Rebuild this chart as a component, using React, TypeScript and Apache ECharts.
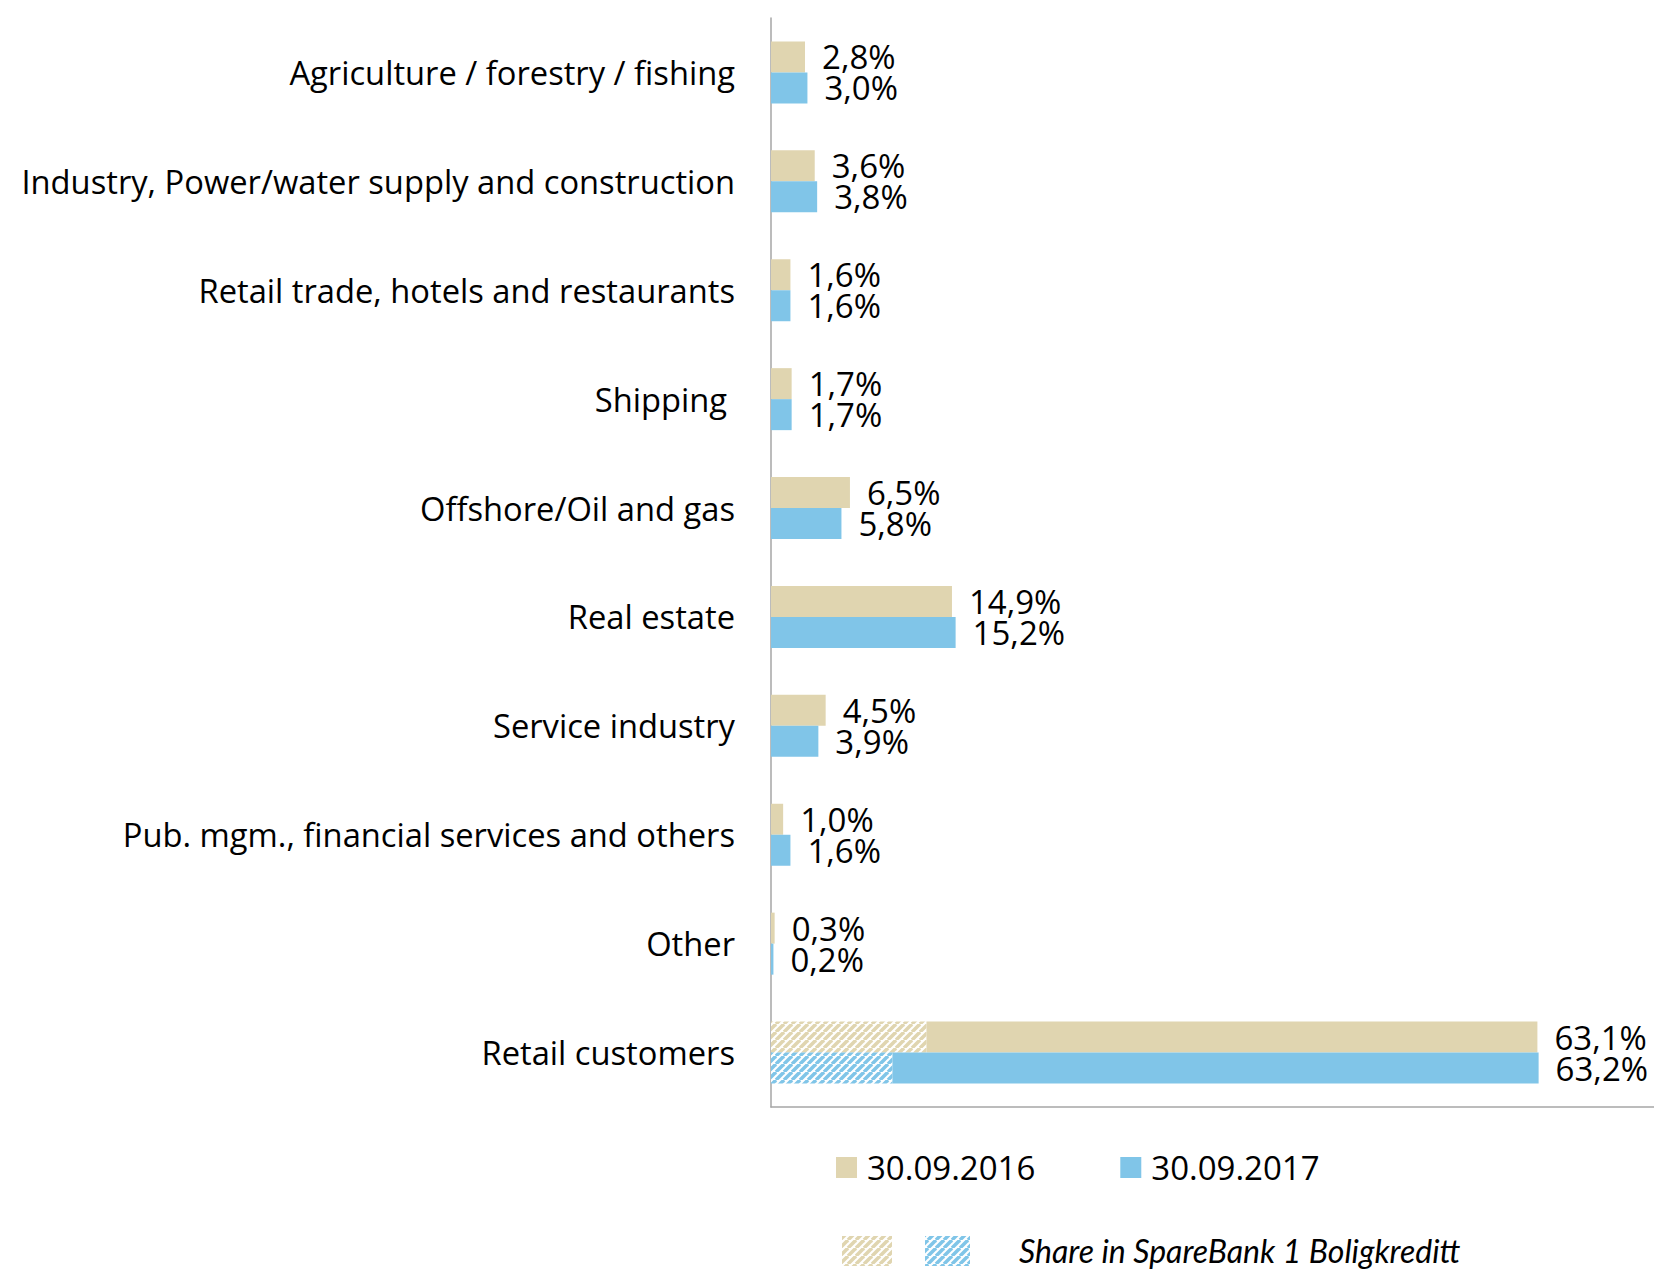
import React, { useEffect, useRef } from "react";
import * as echarts from "echarts";

const categories = [
  "Agriculture / forestry / fishing",
  "Industry, Power/water supply and construction",
  "Retail trade, hotels and restaurants",
  "Shipping",
  "Offshore/Oil and gas",
  "Real estate",
  "Service industry",
  "Pub. mgm., financial services and others",
  "Other",
  "Retail customers",
];
const values2016 = [2.8, 3.6, 1.6, 1.7, 6.5, 14.9, 4.5, 1.0, 0.3, 63.1];
const values2017 = [3.0, 3.8, 1.6, 1.7, 5.8, 15.2, 3.9, 1.6, 0.2, 63.2];
// hatched part: share in SpareBank 1 Boligkreditt (only retail customers)
const boligkreditt2016 = [null, null, null, null, null, null, null, null, null, 12.8];
const boligkreditt2017 = [null, null, null, null, null, null, null, null, null, 10.0];
const seriesNames = ["30.09.2016", "30.09.2017"];
const hatchLegendText = "Share in SpareBank 1 Boligkreditt";

const TAN = "#E0D5B0";
const BLUE = "#80C5E8";
const AXIS = "#A6A6A6";
const FONT = "'Open Sans', sans-serif";
const FS = 33;

function hatch(color: string) {
  const s = 8;
  const c = document.createElement("canvas");
  c.width = s;
  c.height = s;
  const ctx = c.getContext("2d")!;
  ctx.fillStyle = "#ffffff";
  ctx.fillRect(0, 0, s, s);
  ctx.strokeStyle = color;
  ctx.lineWidth = 3.5;
  for (let k = -1; k <= 1; k++) {
    ctx.beginPath();
    ctx.moveTo(k * s, s);
    ctx.lineTo(k * s + s, 0);
    ctx.stroke();
  }
  return { image: c.toDataURL(), repeat: "repeat", imageWidth: s, imageHeight: s };
}

const fmt = (v: number) => v.toFixed(1).replace(".", ",") + "%";

export default function App() {
  const ref = useRef<HTMLDivElement>(null);
  useEffect(() => {
    if (!ref.current) return;
    const chart = echarts.init(ref.current, null, { renderer: "svg" });
    const hatchTan = hatch(TAN);
    const hatchBlue = hatch(BLUE);
    const rest2016 = values2016.map((v, i) => +(v - (boligkreditt2016[i] ?? 0)).toFixed(2));
    const rest2017 = values2017.map((v, i) => +(v - (boligkreditt2017[i] ?? 0)).toFixed(2));
    const labelBase = {
      show: true,
      position: "right",
      distance: 17,
      color: "#000",
      fontSize: FS,
      lineHeight: 29,
      fontFamily: FONT,
    };
    chart.setOption({
      animation: false,
      backgroundColor: "#fff",
      textStyle: { fontFamily: FONT },
      grid: { left: 771, top: 18, width: 883, height: 1089 },
      xAxis: {
        type: "value",
        min: 0,
        max: 72.7,
        axisLine: { show: true, lineStyle: { color: AXIS, width: 1.5 } },
        axisTick: { show: false },
        axisLabel: { show: false },
        splitLine: { show: false },
      },
      yAxis: {
        type: "category",
        inverse: true,
        data: categories.map((c) =>
          c === "Shipping" ? { value: c, textStyle: { padding: [0, 8, 0, 0] } } : c
        ),
        axisLine: { lineStyle: { color: AXIS, width: 1.5 } },
        axisTick: { length: 12, lineStyle: { color: AXIS, width: 1.5 } },
        axisLabel: { margin: 36, color: "#000", fontSize: 32.7, fontFamily: FONT },
      },
      legend: {
        data: seriesNames,
        left: 836,
        top: 1151,
        padding: 0,
        icon: "rect",
        itemWidth: 21,
        itemHeight: 21,
        itemGap: 85,
        textStyle: { fontSize: FS, color: "#000", fontFamily: FONT, padding: [0, 0, 0, 5] },
      },
      series: [
        {
          name: "Boligkreditt " + seriesNames[0],
          type: "bar",
          stack: "s2016",
          barWidth: 31,
          barGap: "0%",
          data: boligkreditt2016,
          itemStyle: { color: hatchTan },
          silent: true,
        },
        {
          name: seriesNames[0],
          type: "bar",
          stack: "s2016",
          barWidth: 31,
          barGap: "0%",
          data: rest2016,
          itemStyle: { color: TAN },
          label: { ...labelBase, formatter: (p: any) => fmt(values2016[p.dataIndex]) },
        },
        {
          name: "Boligkreditt " + seriesNames[1],
          type: "bar",
          stack: "s2017",
          barWidth: 31,
          barGap: "0%",
          data: boligkreditt2017,
          itemStyle: { color: hatchBlue },
          silent: true,
        },
        {
          name: seriesNames[1],
          type: "bar",
          stack: "s2017",
          barWidth: 31,
          barGap: "0%",
          data: rest2017,
          itemStyle: { color: BLUE },
          label: { ...labelBase, formatter: (p: any) => fmt(values2017[p.dataIndex]) },
        },
      ],
      graphic: [
        { type: "rect", shape: { x: 842, y: 1236, width: 50, height: 30 }, style: { fill: hatchTan } },
        { type: "rect", shape: { x: 925, y: 1236, width: 45, height: 30 }, style: { fill: hatchBlue } },
        {
          type: "text",
          x: 1019,
          y: 1250,
          style: {
            text: hatchLegendText,
            fontSize: 32,
            lineHeight: 30,
            fontStyle: "italic",
            fontFamily: "Lato, sans-serif",
            fill: "#000",
            verticalAlign: "middle",
            align: "left",
          },
        },
      ],
    });
    return () => chart.dispose();
  }, []);
  return <div ref={ref} style={{ width: 1654, height: 1270, position: "absolute", left: 0, top: 0 }} />;
}
